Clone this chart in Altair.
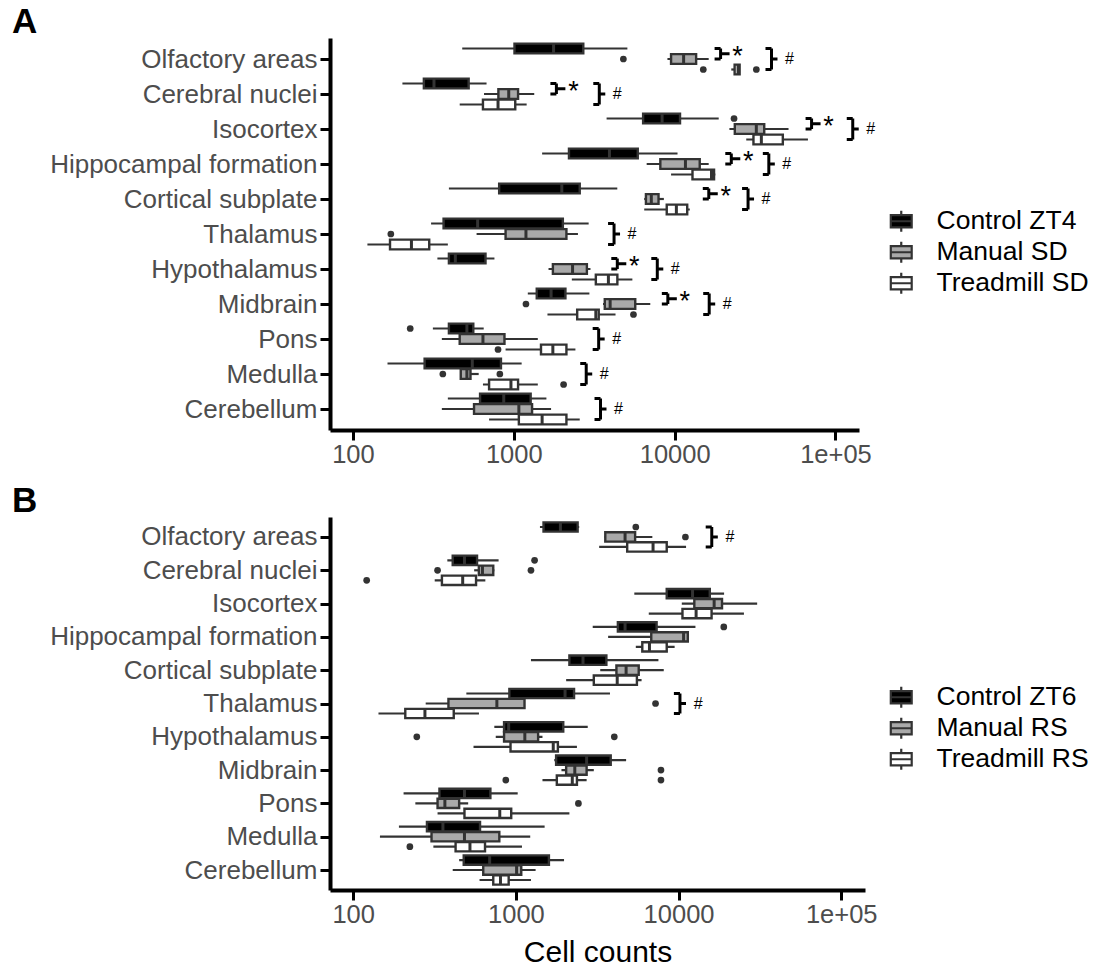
import altair as alt
import pandas as pd

regions = ["Olfactory areas", "Cerebral nuclei", "Isocortex", "Hippocampal formation",
           "Cortical subplate", "Thalamus", "Hypothalamus", "Midbrain", "Pons",
           "Medulla", "Cerebellum"]

groups_a = ["Control ZT4", "Manual SD", "Treadmill SD"]
groups_b = ["Control ZT6", "Manual RS", "Treadmill RS"]
fills = ["#000000", "#A9A9A9", "#FFFFFF"]

# ---------------- Panel A (box statistics) ----------------
a_ctrl_lo = [478, 203, 3775, 1500, 395, 306, 335, 1222, 314, 164, 389]
a_ctrl_q1 = [1010, 276, 6368, 2203, 811, 366, 395, 1389, 395, 279, 617]
a_ctrl_md = [1767, 319, 8356, 3933, 1988, 596, 433, 1705, 511, 552, 866]
a_ctrl_q3 = [2704, 524, 10800, 5898, 2570, 2018, 667, 2094, 560, 832, 1273]
a_ctrl_hi = [5083, 677, 18790, 10420, 4400, 2920, 758, 2951, 650, 1119, 1595]

a_man_lo = [9020, 653, 21900, 6700, 6470, 587, 1644, 3586, 357, 468, 357]
a_man_q1 = [9500, 802, 23660, 8147, 6630, 889, 1750, 3678, 461, 468, 566]
a_man_md = [11370, 930, 32190, 11670, 7160, 1190, 2319, 3972, 643, 511, 1075]
a_man_q3 = [13600, 1063, 36050, 14320, 7940, 2124, 2847, 5689, 875, 538, 1299]
a_man_hi = [16280, 1340, 51050, 16280, 8570, 2505, 2997, 7055, 1410, 605, 1705]

a_tre_lo = [22500, 461, 27870, 9500, 6470, 123, 2295, 1619, 889, 643, 702]
a_tre_q1 = [23600, 643, 30900, 12910, 8930, 170, 3236, 2478, 1476, 702, 1075]
a_tre_md = [24800, 798, 34600, 16950, 10250, 231, 3874, 3236, 1749, 960, 1500]
a_tre_q3 = [25350, 1021, 47050, 17580, 11970, 298, 4404, 3373, 2124, 1063, 2124]
a_tre_hi = [25350, 1202, 67400, 17900, 12420, 389, 5460, 4290, 2416, 1410, 2570]

a_out_region = [2, 8, 0, 5, 7, 9, 9, 0, 0, 7, 8, 9]
a_out_group = [0, 0, 1, 1, 1, 1, 1, 2, 2, 2, 2, 2]
a_out_value = [23400, 227, 4800, 172, 1190, 362, 819, 15070, 32200, 5546, 798, 2040]

a_star_x = [19300, 1840, 71000, 22500, 16300, None, 4400, 9070, None, None, None]
a_hash_x = [40000, 3400, 128000, 38500, 28600, 4200, 7800, 16400, 3370, 2820, 3460]

# ---------------- Panel B ----------------
b_ctrl_lo = [1406, 379, 5346, 2967, 1238, 496, 737, 1722, 204, 191, 448]
b_ctrl_q1 = [1479, 409, 8458, 4236, 2133, 912, 846, 1767, 339, 284, 478]
b_ctrl_md = [1878, 483, 12190, 4690, 2586, 2006, 903, 2722, 483, 356, 690]
b_ctrl_q3 = [2397, 577, 15560, 7330, 3600, 2278, 1955, 3828, 697, 602, 1596]
b_ctrl_hi = [2450, 783, 19050, 12700, 7520, 3788, 2765, 4760, 1026, 1502, 1977]

b_man_lo = [3509, 554, 10470, 3690, 3300, 279, 752, 1906, 241, 146, 409]
b_man_q1 = [3545, 592, 12500, 6795, 4150, 385, 846, 2037, 330, 303, 630]
b_man_md = [4690, 623, 16550, 10740, 4760, 764, 1135, 2302, 366, 483, 1010]
b_man_q3 = [5407, 726, 18500, 11400, 5690, 1130, 1370, 2722, 448, 791, 1079]
b_man_hi = [6900, 737, 30420, 11400, 8110, 1130, 1457, 3013, 509, 1225, 1322]

b_tre_lo = [3251, 317, 6560, 5460, 2037, 143, 549, 1457, 330, 311, 598]
b_tre_q1 = [4833, 351, 10570, 5986, 3013, 209, 927, 1785, 483, 426, 726]
b_tre_md = [6970, 471, 12820, 6625, 4197, 276, 1697, 2222, 796, 522, 804]
b_tre_q3 = [8458, 569, 15960, 8458, 5546, 415, 1812, 2373, 936, 646, 903]
b_tre_hi = [11120, 649, 25230, 9460, 5925, 593, 2373, 2722, 2133, 1090, 1238]

b_out_region = [0, 1, 3, 0, 1, 1, 5, 6, 6, 7, 8, 1, 7, 7, 9]
b_out_group = [0, 0, 0, 1, 1, 1, 1, 1, 1, 1, 1, 2, 2, 2, 2]
b_out_value = [5460, 1303, 18970, 11020, 330, 1238, 7220, 246, 4027, 7795, 2423, 121, 867, 7795, 223]

b_star_x = [None] * 11
b_hash_x = [16000, None, None, None, None, 10200, None, None, None, None, None]

# ---------------- helpers ----------------
OFFS = [0.3, 0.0, -0.3]
HALF = 0.14
PX_PER_DEC = 161.0
FONT = "Liberation Sans"
LEG_PATH = "M-0.95,-0.55H0.95V0.55H-0.95Z M0,-0.55V-0.95 M0,0.55V0.95 M-0.95,0H0.95"


def fac(px):
    return 10 ** (px / PX_PER_DEC)


def panel(groups, stats, out_r, out_g, out_v, star_x, hash_x, letter, w, h,
          xtitle, leg_y):
    rows = []
    for gi, g in enumerate(groups):
        lo, q1, md, q3, hi = stats[gi]
        for ri, r in enumerate(regions):
            yc = (10 - ri) + OFFS[gi]
            rows.append(dict(region=r, group=g, yc=yc, ylo=yc - HALF, yhi=yc + HALF,
                             lo=lo[ri], q1=q1[ri], md=md[ri], q3=q3[ri], hi=hi[ri]))
    box = pd.DataFrame(rows)

    outs = pd.DataFrame(dict(v=out_v,
                             yc=[(10 - r) + OFFS[g] for r, g in zip(out_r, out_g)]))

    vrows, hrows, stars, hashes = [], [], [], []
    for ri in range(len(regions)):
        base = 10 - ri
        for bx, gi2, lst in ((star_x[ri], 1, stars), (hash_x[ri], 2, hashes)):
            if bx is None:
                continue
            ya = base + OFFS[0]
            yb = base + OFFS[gi2]
            ym = (ya + yb) / 2
            vrows.append(dict(bx=bx, ya=ya, yb=yb))
            hrows.append(dict(x1=bx / fac(6), x2=bx, yy=ya))
            hrows.append(dict(x1=bx / fac(6), x2=bx, yy=yb))
            nub = 9 if gi2 == 1 else 6
            hrows.append(dict(x1=bx, x2=bx * fac(nub), yy=ym))
            lst.append(dict(xt=bx * fac(17 if gi2 == 1 else 18), yt=ym))
    br_v = pd.DataFrame(vrows)
    br_h = pd.DataFrame(hrows)

    xs = alt.Scale(type="log", domain=[72, 140000], nice=False)
    ys = alt.Scale(domain=[-0.6, 10.6], nice=False, zero=False)
    lab_list = "[" + ",".join("'" + r + "'" for r in regions[::-1]) + "]"
    xaxis = alt.Axis(values=[100, 1000, 10000, 100000],
                     labelExpr="datum.value >= 100000 ? '1e+05' : format(datum.value, 'd')",
                     grid=False, domainColor="black", domainWidth=4, tickColor="black",
                     tickWidth=3, tickSize=10, labelFontSize=25.5, labelColor="#4D4D4D",
                     labelFont=FONT, labelPadding=2, labelOverlap=False, labelFlush=False,
                     title=xtitle, titleFontSize=30, titleFont=FONT, titleColor="black",
                     titleFontWeight="normal", titlePadding=10)
    yaxis = alt.Axis(values=list(range(11)), labelExpr=lab_list + "[datum.value]",
                     grid=False, domainColor="black", domainWidth=4, tickColor="black",
                     tickWidth=3, tickSize=10, labelFontSize=26, labelColor="#4D4D4D",
                     labelFont=FONT, labelPadding=3, labelOverlap=False, labelLimit=500,
                     title=None)

    def X(f):
        return alt.X(f, type="quantitative", scale=xs, axis=xaxis)

    def Y(f):
        return alt.Y(f, type="quantitative", scale=ys, axis=yaxis)

    whisk = alt.Chart(box).mark_rule(color="#333333", strokeWidth=2.2).encode(
        x=X("lo"), x2="hi", y=Y("yc"))
    rect = alt.Chart(box).mark_rect(stroke="#333333", strokeWidth=2.4).encode(
        x=X("q1"), x2="q3", y=Y("ylo"), y2="yhi",
        fill=alt.Fill("group:N", scale=alt.Scale(domain=groups, range=fills),
                      legend=alt.Legend(title=None, orient="none", legendX=558,
                                        legendY=leg_y, symbolType=LEG_PATH,
                                        symbolSize=484, symbolStrokeColor="#333333",
                                        symbolStrokeWidth=2.2, symbolOpacity=1,
                                        labelFontSize=26.5, labelFont=FONT,
                                        labelColor="black", labelOffset=22,
                                        labelLimit=400, rowPadding=0)))
    med = alt.Chart(box).mark_rule(color="#333333", strokeWidth=3).encode(
        x=X("md"), y=Y("ylo"), y2="yhi")
    pts = alt.Chart(outs).mark_circle(color="#333333", size=45, opacity=1).encode(
        x=X("v"), y=Y("yc"))
    bv = alt.Chart(br_v).mark_rule(color="black", strokeWidth=3).encode(
        x=X("bx"), y=Y("ya"), y2="yb")
    bh = alt.Chart(br_h).mark_rule(color="black", strokeWidth=3).encode(
        x=X("x1"), x2="x2", y=Y("yy"))
    layers = [whisk, rect, med, pts, bv, bh]
    if stars:
        layers.append(alt.Chart(pd.DataFrame(stars)).mark_text(
            text="*", fontSize=27, font=FONT, color="black", align="center",
            baseline="middle", dy=3).encode(x=X("xt"), y=Y("yt")))
    if hashes:
        layers.append(alt.Chart(pd.DataFrame(hashes)).mark_text(
            text="#", fontSize=16, font=FONT, color="black", align="center",
            baseline="middle").encode(x=X("xt"), y=Y("yt")))
    layers.append(alt.Chart(pd.DataFrame({"t": [letter]})).mark_text(
        fontSize=35, fontWeight="bold", font=FONT, color="black", align="left",
        baseline="alphabetic").encode(x=alt.value(-318), y=alt.value(-5), text="t:N"))
    return alt.layer(*layers).properties(width=w, height=h)


pa = panel(groups_a,
           [(a_ctrl_lo, a_ctrl_q1, a_ctrl_md, a_ctrl_q3, a_ctrl_hi),
            (a_man_lo, a_man_q1, a_man_md, a_man_q3, a_man_hi),
            (a_tre_lo, a_tre_q1, a_tre_md, a_tre_q3, a_tre_hi)],
           a_out_region, a_out_group, a_out_value, a_star_x, a_hash_x,
           "A", 529, 392, None, 170)
pb = panel(groups_b,
           [(b_ctrl_lo, b_ctrl_q1, b_ctrl_md, b_ctrl_q3, b_ctrl_hi),
            (b_man_lo, b_man_q1, b_man_md, b_man_q3, b_man_hi),
            (b_tre_lo, b_tre_q1, b_tre_md, b_tre_q3, b_tre_hi)],
           b_out_region, b_out_group, b_out_value, b_star_x, b_hash_x,
           "B", 535, 373, "Cell counts", 167)

chart = alt.vconcat(pa, pb, spacing=16).resolve_scale(
    x="independent", y="independent", fill="independent"
).configure_view(stroke=None).properties(
    padding={"left": 12, "top": 5, "right": 5, "bottom": 5},
    background="white")

chart.save("out.html", embed_options={"renderer": "svg", "actions": False})
